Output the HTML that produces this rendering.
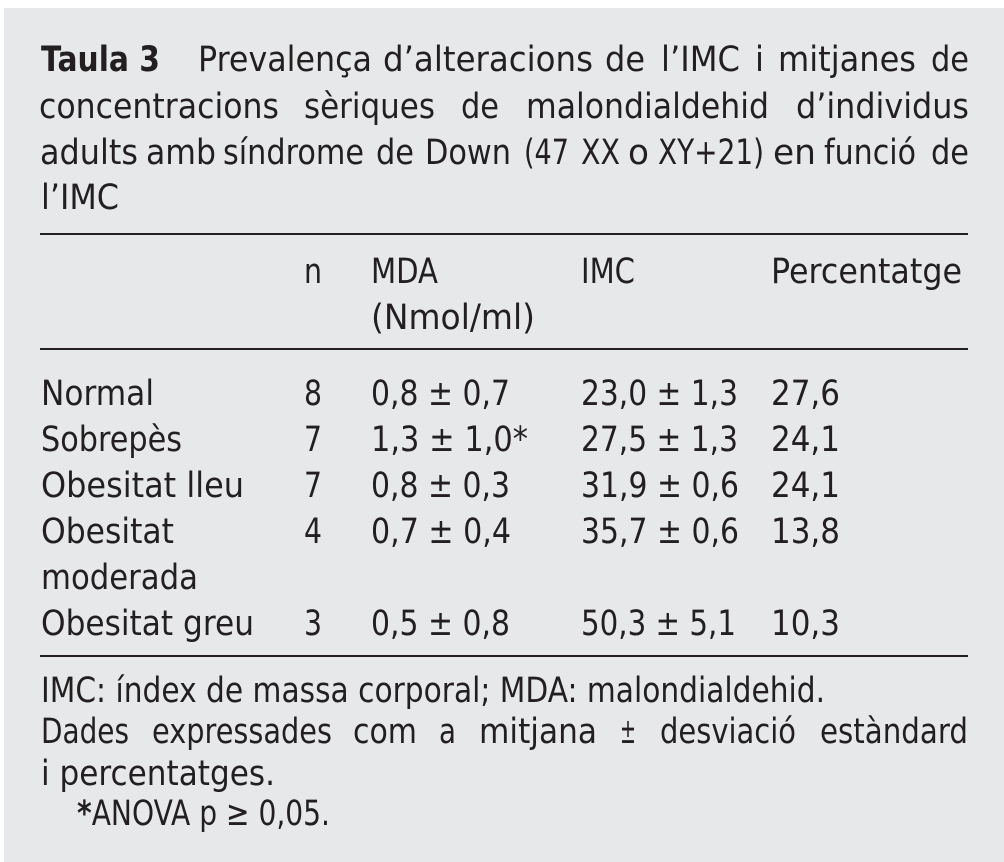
<!DOCTYPE html>
<html lang="ca">
<head>
<meta charset="utf-8">
<title>Taula 3</title>
<style>
html,body{margin:0;padding:0;background:#fff;}
#page{display:block;width:1004px;height:862px;}
text{font-family:"DejaVu Sans",sans-serif;font-size:35px;fill:#231f20;}
.b{font-weight:700;}
</style>
</head>
<body>
<svg id="page" xmlns="http://www.w3.org/2000/svg" width="1004" height="862" viewBox="0 0 1004 862">
<rect x="4" y="8" width="1000" height="854" fill="#e6e8ea"/>

<g>
<text class="b" x="41" y="71" textLength="119" lengthAdjust="spacingAndGlyphs">Taula 3</text>
<text x="198" y="71" textLength="174" lengthAdjust="spacingAndGlyphs">Prevalença</text>
<text x="383" y="71" textLength="210" lengthAdjust="spacingAndGlyphs">d’alteracions</text>
<text x="605" y="71" textLength="40" lengthAdjust="spacingAndGlyphs">de</text>
<text x="661" y="71" textLength="79" lengthAdjust="spacingAndGlyphs">l’IMC</text>
<text x="755" y="71" textLength="9" lengthAdjust="spacingAndGlyphs">i</text>
<text x="778" y="71" textLength="138" lengthAdjust="spacingAndGlyphs">mitjanes</text>
<text x="931" y="71" textLength="38" lengthAdjust="spacingAndGlyphs">de</text>

<text x="39" y="118" textLength="240" lengthAdjust="spacingAndGlyphs">concentracions</text>
<text x="304" y="118" textLength="131" lengthAdjust="spacingAndGlyphs">sèriques</text>
<text x="461" y="118" textLength="38" lengthAdjust="spacingAndGlyphs">de</text>
<text x="526" y="118" textLength="243" lengthAdjust="spacingAndGlyphs">malondialdehid</text>
<text x="796" y="118" textLength="173" lengthAdjust="spacingAndGlyphs">d’individus</text>

<g>
<text x="40" y="164" textLength="98" lengthAdjust="spacingAndGlyphs">adults</text>
<text x="146" y="164" textLength="70" lengthAdjust="spacingAndGlyphs">amb</text>
<text x="223" y="164" textLength="141" lengthAdjust="spacingAndGlyphs">síndrome</text>
<text x="376" y="164" textLength="38" lengthAdjust="spacingAndGlyphs">de</text>
<text x="425" y="164" textLength="86" lengthAdjust="spacingAndGlyphs">Down</text>
<text x="524" y="164" textLength="45" lengthAdjust="spacingAndGlyphs">(47</text>
<text x="581" y="164" textLength="39" lengthAdjust="spacingAndGlyphs">XX</text>
<text x="628" y="164" textLength="21" lengthAdjust="spacingAndGlyphs">o</text>
<text x="658" y="164" textLength="106" lengthAdjust="spacingAndGlyphs">XY+21)</text>
<text x="773" y="164" textLength="43" lengthAdjust="spacingAndGlyphs">en</text>
<text x="824" y="164" textLength="92" lengthAdjust="spacingAndGlyphs">funció</text>
<text x="931" y="164" textLength="38" lengthAdjust="spacingAndGlyphs">de</text>
</g>
<text x="41" y="209" textLength="78" lengthAdjust="spacingAndGlyphs">l’IMC</text>
</g>

<rect x="40" y="233" width="928" height="2" fill="#231f20"/>

<g>
<text x="304" y="283" textLength="18" lengthAdjust="spacingAndGlyphs">n</text>
<text x="371" y="283" textLength="67" lengthAdjust="spacingAndGlyphs">MDA</text>
<text x="371" y="329" textLength="164" lengthAdjust="spacingAndGlyphs">(Nmol/ml)</text>
<text x="581" y="283" textLength="54" lengthAdjust="spacingAndGlyphs">IMC</text>
<text x="771" y="283" textLength="191" lengthAdjust="spacingAndGlyphs">Percentatge</text>
</g>

<rect x="40" y="348" width="928" height="2" fill="#231f20"/>

<g>
<text x="41" y="405" textLength="113" lengthAdjust="spacingAndGlyphs">Normal</text>
<text x="304" y="405" textLength="18" lengthAdjust="spacingAndGlyphs">8</text>
<text x="371" y="405" textLength="139" lengthAdjust="spacingAndGlyphs">0,8 ± 0,7</text>
<text x="581" y="405" textLength="157" lengthAdjust="spacingAndGlyphs">23,0 ± 1,3</text>
<text x="771" y="405" textLength="69" lengthAdjust="spacingAndGlyphs">27,6</text>
</g>
<g>
<text x="41" y="451" textLength="141" lengthAdjust="spacingAndGlyphs">Sobrepès</text>
<text x="304" y="451" textLength="18" lengthAdjust="spacingAndGlyphs">7</text>
<text x="371" y="451" textLength="157" lengthAdjust="spacingAndGlyphs">1,3 ± 1,0*</text>
<text x="581" y="451" textLength="157" lengthAdjust="spacingAndGlyphs">27,5 ± 1,3</text>
<text x="771" y="451" textLength="69" lengthAdjust="spacingAndGlyphs">24,1</text>
</g>
<g>
<text x="41" y="497" textLength="203" lengthAdjust="spacingAndGlyphs">Obesitat lleu</text>
<text x="304" y="497" textLength="18" lengthAdjust="spacingAndGlyphs">7</text>
<text x="371" y="497" textLength="139" lengthAdjust="spacingAndGlyphs">0,8 ± 0,3</text>
<text x="581" y="497" textLength="158" lengthAdjust="spacingAndGlyphs">31,9 ± 0,6</text>
<text x="771" y="497" textLength="69" lengthAdjust="spacingAndGlyphs">24,1</text>
</g>
<g>
<text x="41" y="543" textLength="133" lengthAdjust="spacingAndGlyphs">Obesitat</text>
<text x="41" y="589" textLength="157" lengthAdjust="spacingAndGlyphs">moderada</text>
<text x="304" y="543" textLength="18" lengthAdjust="spacingAndGlyphs">4</text>
<text x="371" y="543" textLength="140" lengthAdjust="spacingAndGlyphs">0,7 ± 0,4</text>
<text x="581" y="543" textLength="158" lengthAdjust="spacingAndGlyphs">35,7 ± 0,6</text>
<text x="771" y="543" textLength="69" lengthAdjust="spacingAndGlyphs">13,8</text>
</g>
<g>
<text x="41" y="635" textLength="213" lengthAdjust="spacingAndGlyphs">Obesitat greu</text>
<text x="304" y="635" textLength="18" lengthAdjust="spacingAndGlyphs">3</text>
<text x="371" y="635" textLength="139" lengthAdjust="spacingAndGlyphs">0,5 ± 0,8</text>
<text x="581" y="635" textLength="155" lengthAdjust="spacingAndGlyphs">50,3 ± 5,1</text>
<text x="771" y="635" textLength="69" lengthAdjust="spacingAndGlyphs">10,3</text>
</g>

<rect x="40" y="655" width="928" height="2" fill="#231f20"/>

<g>
<text x="41" y="702" textLength="784" lengthAdjust="spacingAndGlyphs">IMC: índex de massa corporal; MDA: malondialdehid.</text>
<text x="41" y="743" textLength="88" lengthAdjust="spacingAndGlyphs">Dades</text>
<text x="152" y="743" textLength="180" lengthAdjust="spacingAndGlyphs">expressades</text>
<text x="353" y="743" textLength="64" lengthAdjust="spacingAndGlyphs">com</text>
<text x="439" y="743" textLength="17" lengthAdjust="spacingAndGlyphs">a</text>
<text x="479" y="743" textLength="118" lengthAdjust="spacingAndGlyphs">mitjana</text>
<text x="620" y="743" textLength="16" lengthAdjust="spacingAndGlyphs">±</text>
<text x="660" y="743" textLength="136" lengthAdjust="spacingAndGlyphs">desviació</text>
<text x="820" y="743" textLength="148" lengthAdjust="spacingAndGlyphs">estàndard</text>
<text x="41" y="785" textLength="234" lengthAdjust="spacingAndGlyphs">i percentatges.</text>
<text x="77" y="825" textLength="253" lengthAdjust="spacingAndGlyphs"><tspan class="b">*</tspan>ANOVA p ≥ 0,05.</text>
</g>
</svg>
</body>
</html>
